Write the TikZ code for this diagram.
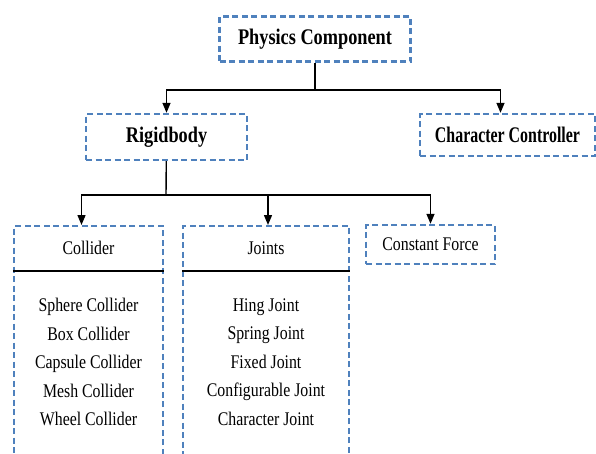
\documentclass[tikz,border=0pt]{standalone}
\usepackage{fontspec}
\setmainfont{Liberation Serif}[FakeStretch=0.82]
\usepackage{tikz}
\usetikzlibrary{arrows.meta,positioning,calc}
\definecolor{boxblue}{HTML}{4F81BD}

\begin{document}
\begin{tikzpicture}[
    x=1pt,y=-1pt,
    bx/.style   = {rectangle,draw=boxblue,line width=2.4pt,dash pattern=on 6pt off 3.5pt,
                   align=center,inner sep=0pt},
    hd/.style   = {font=\fontsize{22.3}{24}\selectfont\bfseries},
    nm/.style   = {font=\fontsize{19.3}{20}\selectfont},
    lst/.style  = {align=center,font=\fontsize{19.3}{28.5}\selectfont},
    fl/.style   = {-{Triangle[length=10pt,width=8pt]},black,line width=1.4pt},
    ln/.style   = {black,line width=1.4pt},
    sep/.style  = {black,line width=1.8pt},
  ]
  \useasboundingbox (0,0) rectangle (596,453);
  \clip (0,0) rectangle (596,453);

  \node[bx,hd,minimum width=191pt,minimum height=45pt] (pc) at (315,39) {Physics Component};
  \node[bx,hd,minimum width=161pt,minimum height=46pt] (rb) at (166.5,137) {Rigidbody};
  \node[bx,hd,minimum width=175pt,minimum height=42pt] (cc) at (507.5,135)
    {\scalebox{0.87}[1]{Character Controller}};

  % columns run off the bottom edge
  \node[bx,anchor=north,minimum width=149pt,minimum height=260pt] (colbox) at (88.5,225) {};
  \node[bx,anchor=north,minimum width=166pt,minimum height=260pt] (jtbox) at (266,225) {};
  \node[bx,nm,minimum width=129pt,minimum height=39pt] (cf) at (430.5,244.5) {Constant Force};

  \node[nm] (col) at (88.5,248) {Collider};
  \node[nm] (jt)  at (266,248) {Joints};
  \draw[sep] ([yshift=-46pt]colbox.north west) -- ([yshift=-46pt]colbox.north east);
  \draw[sep] ([yshift=-46pt]jtbox.north west) -- ([yshift=-46pt]jtbox.north east);

  \node[lst] (collist) at (88.5,362) {Sphere Collider\\Box Collider\\Capsule Collider\\Mesh Collider\\Wheel Collider};
  \node[lst] (jtlist)  at (266,362) {Hing Joint\\Spring Joint\\Fixed Joint\\Configurable Joint\\Character Joint};

  \coordinate (j1) at (315,90);
  \coordinate (j2) at (166,195);

  \draw[ln] (pc) -- (j1);
  \draw[fl] (j1) -| (rb);
  \draw[fl] (j1) -| ([xshift=-7pt]cc.north);
  \draw[ln] (rb) -- (j2);
  \draw[fl] (j2) -| ([xshift=-7pt]colbox.north);
  \draw[fl] (j2) -| ([xshift=2pt]jtbox.north);
  \draw[fl] (j2) -| (cf);

\end{tikzpicture}
\end{document}
